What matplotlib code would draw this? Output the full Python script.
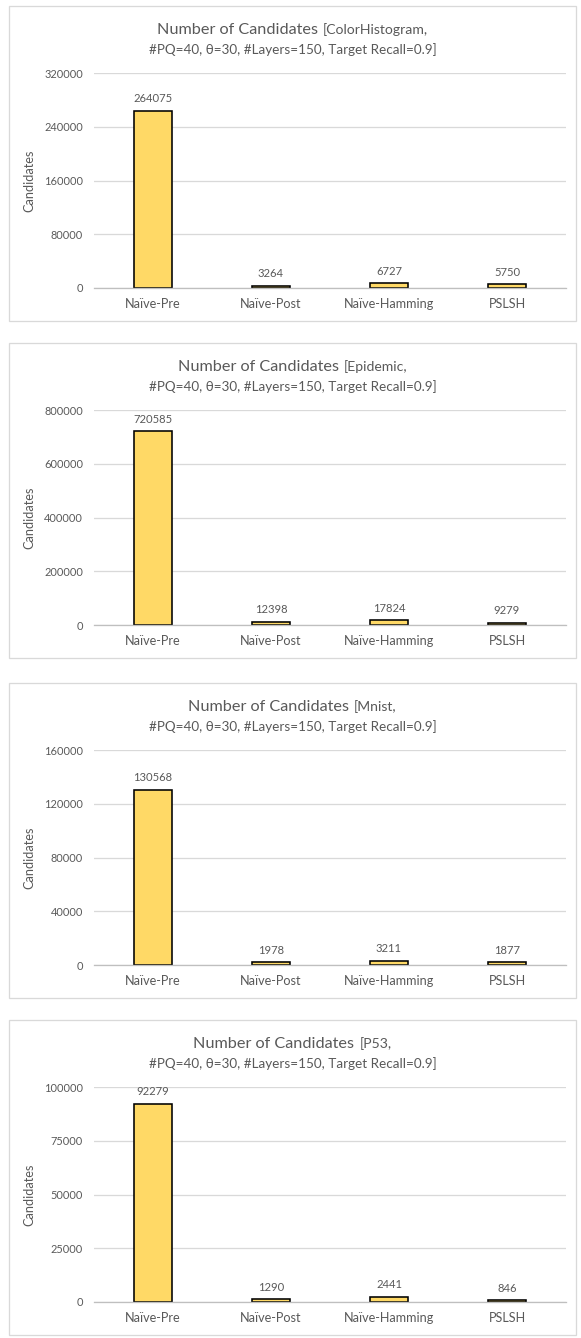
import matplotlib
matplotlib.use("Agg")
import matplotlib.pyplot as plt
from matplotlib.patches import Rectangle

# ---- data ----
categories = ["Naïve-Pre", "Naïve-Post", "Naïve-Hamming", "PSLSH"]
datasets = ["ColorHistogram", "Epidemic", "Mnist", "P53"]
color_histogram = [264075, 3264, 6727, 5750]
epidemic = [720585, 12398, 17824, 9279]
mnist = [130568, 1978, 3211, 1877]
p53 = [92279, 1290, 2441, 846]
y_ticks_color_histogram = [0, 80000, 160000, 240000, 320000]
y_ticks_epidemic = [0, 200000, 400000, 600000, 800000]
y_ticks_mnist = [0, 40000, 80000, 120000, 160000]
y_ticks_p53 = [0, 25000, 50000, 75000, 100000]
subtitle = "#PQ=40, θ=30, #Layers=150, Target Recall=0.9]"

series = [color_histogram, epidemic, mnist, p53]
ticks = [y_ticks_color_histogram, y_ticks_epidemic, y_ticks_mnist, y_ticks_p53]

# ---- style ----
W, H = 581, 1338
DPI = 100
PX = 72.0 / DPI  # points per pixel
FONT = ["Lato", "DejaVu Sans"]
TXT = "#595959"
GRID = "#D9D9D9"
BAR = "#FFD966"

plt.rcParams["font.family"] = FONT

fig = plt.figure(figsize=(W / DPI, H / DPI), dpi=DPI)
renderer = fig.canvas.get_renderer()

panel_tops = [6, 343, 683, 1020]
panel_left, panel_right, panel_h = 9, 576, 315
ax_left, ax_right = 94, 566


def fx(px):
    return px / W


def fy(py):
    return 1 - py / H


for name, vals, yt, top in zip(datasets, series, ticks, panel_tops):
    # panel frame
    fig.patches.append(Rectangle((fx(panel_left), fy(top + panel_h)),
                                 fx(panel_right - panel_left), panel_h / H,
                                 transform=fig.transFigure, fill=False,
                                 edgecolor=GRID, linewidth=1.3 * PX,
                                 zorder=0))

    # two-size title line
    cx = (panel_left + panel_right) / 2
    t1 = fig.text(0, fy(top + 28), "Number of Candidates", fontsize=16.3 * PX,
                  color=TXT, va="baseline", ha="left")
    t2 = fig.text(0, fy(top + 28), "[" + name + ",", fontsize=14 * PX,
                  color=TXT, va="baseline", ha="left")
    w1 = t1.get_window_extent(renderer).width
    w2 = t2.get_window_extent(renderer).width
    gap = 5
    x0 = cx - (w1 + gap + w2) / 2
    t1.set_x(fx(x0))
    t2.set_x(fx(x0 + w1 + gap))
    fig.text(fx(cx), fy(top + 44), subtitle, fontsize=13.5 * PX, color=TXT,
             ha="center", va="center")

    ax = fig.add_axes([fx(ax_left), fy(top + 282), fx(ax_right - ax_left),
                       215 / H])
    x = range(len(categories))
    bars = ax.bar(x, vals, width=0.32, color=BAR, edgecolor="black",
                  linewidth=1.6 * PX, zorder=2)
    for b, v in zip(bars, vals):
        ax.annotate(str(v), (b.get_x() + b.get_width() / 2, v),
                    xytext=(0, 12 * PX), textcoords="offset points",
                    ha="center", va="center", fontsize=11.2 * PX, color=TXT)

    ax.set_xlim(-0.5, len(categories) - 0.5)
    ax.set_ylim(yt[0], yt[-1])
    ax.set_yticks(yt)
    ax.set_yticklabels([str(t) for t in yt])
    ax.set_xticks(list(x))
    ax.set_xticklabels(categories)
    ax.tick_params(axis="y", length=0, pad=11 * PX, labelsize=11 * PX,
                   labelcolor=TXT)
    ax.tick_params(axis="x", length=0, pad=10 * PX, labelsize=12.6 * PX,
                   labelcolor=TXT)
    ax.grid(axis="y", color=GRID, linewidth=1.3 * PX, zorder=0)
    ax.set_axisbelow(True)
    for s in ["top", "right", "left"]:
        ax.spines[s].set_visible(False)
    ax.spines["bottom"].set_color("#BFBFBF")
    ax.spines["bottom"].set_linewidth(1.3 * PX)
    ax.spines["bottom"].set_zorder(3)
    ax.set_ylabel("Candidates", fontsize=12.8 * PX, color=TXT)
    ax.yaxis.set_label_coords((35 - ax_left) / (ax_right - ax_left), 0.5)
    ax.patch.set_alpha(0)

fig.savefig("out.png", dpi=DPI, facecolor="white")
